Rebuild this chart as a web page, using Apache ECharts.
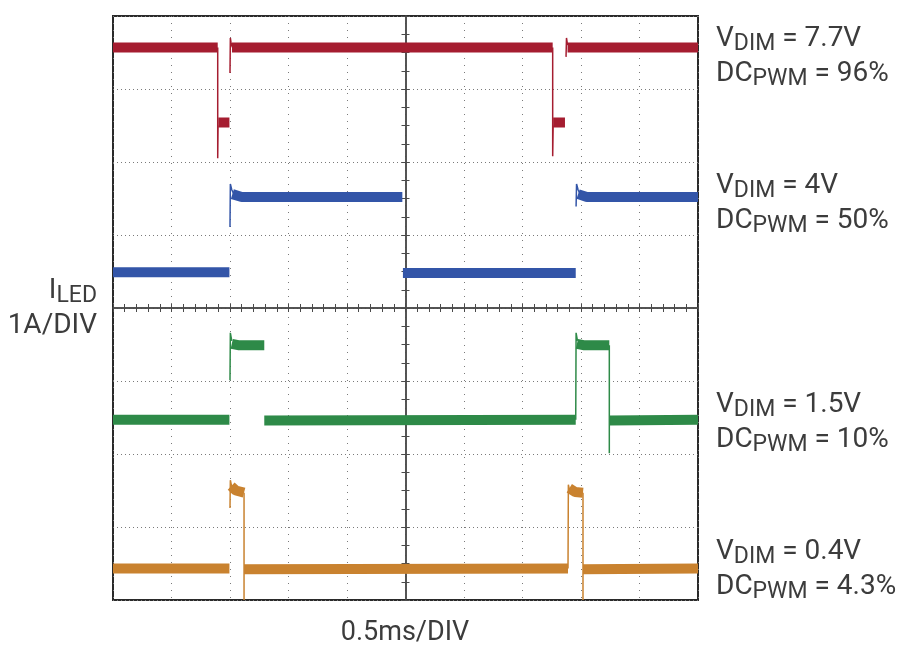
<!DOCTYPE html>
<html>
<head>
<meta charset="utf-8">
<script src="https://cdn.jsdelivr.net/npm/echarts@6/dist/echarts.min.js"></script>
<style>
html,body{margin:0;padding:0;background:#fff;}
#c{width:905px;height:646px;}
</style>
</head>
<body>
<div id="c"></div>
<script>
// Time in ms (0.5 ms/DIV, trigger at centre), current in A (1 A/DIV, centre = 0 A).
// '-' marks a gap in a trace.

// VDIM = 7.7V, DCPWM = 96%
const redLevel = [[-2.5,3.57],[-1.605,3.57],[-1.605,'-'],[-1.600,2.54],[-1.505,2.54],[-1.505,'-'],
  [-1.483,3.57],[1.258,3.57],[1.258,'-'],[1.262,2.54],[1.363,2.54],[1.363,'-'],[1.385,3.57],[2.5,3.57]];
const redEdge = [[-1.605,3.57],[-1.605,2.05],[-1.602,2.50],[-1.602,'-'],
  [-1.500,3.22],[-1.497,3.70],[-1.490,3.62],[-1.480,3.57],[-1.480,'-'],
  [1.258,3.57],[1.258,2.08],[1.262,2.50],[1.262,'-'],
  [1.372,3.44],[1.376,3.70],[1.385,3.60]];

// VDIM = 4V, DCPWM = 50%
const blueLevel = [[-2.5,0.49],[-1.505,0.49],[-1.505,'-'],[-1.480,1.56],[-1.40,1.52],[-0.027,1.52],[-0.027,'-'],
  [-0.022,0.48],[1.455,0.48],[1.455,'-'],[1.475,1.56],[1.55,1.52],[2.5,1.52]];
const blueEdge = [[-1.500,1.11],[-1.497,1.70],[-1.485,1.62],[-1.470,1.57],[-1.470,'-'],
  [1.458,1.39],[1.462,1.70],[1.475,1.62],[1.490,1.57]];

// VDIM = 1.5V, DCPWM = 10%
const greenLevel = [[-2.5,-1.53],[-1.505,-1.53],[-1.505,'-'],[-1.485,-0.49],[-1.43,-0.51],[-1.207,-0.51],[-1.207,'-'],
  [-1.207,-1.54],[1.455,-1.53],[1.455,'-'],
  [1.465,-0.49],[1.52,-0.51],[1.742,-0.51],[1.742,'-'],[1.742,-1.54],[2.5,-1.53]];
const greenEdge = [[-1.500,-0.99],[-1.497,-0.34],[-1.485,-0.45],[-1.485,'-'],
  [1.455,-1.53],[1.458,-0.34],[1.470,-0.45],[1.470,'-'],
  [1.742,-0.51],[1.742,-1.99]];

// VDIM = 0.4V, DCPWM = 4.3%
const orangeLevel = [[-2.5,-3.57],[-1.505,-3.57],[-1.505,'-'],[-1.490,-2.44],[-1.45,-2.50],[-1.38,-2.53],[-1.38,'-'],
  [-1.38,-3.58],[1.389,-3.57],[1.389,'-'],
  [1.400,-2.47],[1.45,-2.52],[1.517,-2.53],[1.517,'-'],[1.517,-3.58],[2.5,-3.57]];
const orangeEdge = [[-1.500,-2.74],[-1.497,-2.36],[-1.485,-2.45],[-1.485,'-'],
  [-1.38,-2.53],[-1.38,-4.0],[-1.38,'-'],
  [1.389,-3.57],[1.392,-2.42],[1.400,-2.48],[1.400,'-'],
  [1.517,-2.53],[1.517,-4.0]];

const traceColors = ['#a51d30', '#3355a8', '#2e8a48', '#c9822f'];
const traceNames = ['7.7V', '4V', '1.5V', '0.4V'];

const labelGroups = [
  ['{v|V}{s|DIM}{v| = 7.7V}', '{v|DC}{s|PWM}{v| = 96%}'],
  ['{v|V}{s|DIM}{v| = 4V}', '{v|DC}{s|PWM}{v| = 50%}'],
  ['{v|V}{s|DIM}{v| = 1.5V}', '{v|DC}{s|PWM}{v| = 10%}'],
  ['{v|V}{s|DIM}{v| = 0.4V}', '{v|DC}{s|PWM}{v| = 4.3%}']
];
const labelTops = [21, 168, 387, 534];

const X_MIN = -2.5, X_MAX = 2.5, X_STEP = 0.5;
const Y_MIN = -4, Y_MAX = 4, Y_STEP = 1;

const chart = echarts.init(document.getElementById('c'), null, {renderer: 'canvas'});

const FONT = 'Roboto, "Liberation Sans", sans-serif';
const TXT = '#3c3c3c';
const richStyle = {
  v: {fontSize: 28, fontFamily: FONT, fill: TXT, lineHeight: 35},
  s: {fontSize: 23, fontFamily: FONT, fill: TXT, lineHeight: 21, verticalAlign: 'bottom'}
};

const axisCommon = (pos, split, splitType, minorN) => ({
  type: 'value',
  position: pos,
  axisLine: {show: true, onZero: true, onZeroAxisIndex: 0, lineStyle: {color: '#4a4a4a', width: 1.5}},
  axisTick: {show: true, length: 4, lineStyle: {color: '#4a4a4a', width: 1}},
  minorTick: {show: true, splitNumber: minorN, length: 4, lineStyle: {color: '#4a4a4a', width: 1}},
  axisLabel: {show: false},
  splitLine: {show: split, lineStyle: {color: '#7a7a7a', width: 1, type: splitType}},
  minorSplitLine: {show: false}
});

const xAxes = [
  Object.assign(axisCommon('bottom', true, [1, 6], 5), {min: X_MIN, max: X_MAX, interval: X_STEP}),
  Object.assign(axisCommon('top', false, 'solid', 5), {min: X_MIN, max: X_MAX, interval: X_STEP})
];
const yAxes = [
  Object.assign(axisCommon('left', true, [1, 3], 4), {min: Y_MIN, max: Y_MAX, interval: Y_STEP}),
  Object.assign(axisCommon('right', false, 'solid', 4), {min: Y_MIN, max: Y_MAX, interval: Y_STEP})
];

const levels = [redLevel, blueLevel, greenLevel, orangeLevel];
const edges = [redEdge, blueEdge, greenEdge, orangeEdge];
const series = [];
levels.forEach((d, i) => {
  series.push({
    name: traceNames[i] + ' level', type: 'line', data: d, showSymbol: false, connectNulls: false,
    silent: true, z: 3,
    lineStyle: {color: traceColors[i], width: 10, cap: 'butt', join: 'bevel'}
  });
  series.push({
    name: traceNames[i] + ' edge', type: 'line', data: edges[i], showSymbol: false, connectNulls: false,
    silent: true, z: 4,
    lineStyle: {color: traceColors[i], width: 1.5, cap: 'butt'}
  });
});

const graphic = [];
labelGroups.forEach((g, i) => {
  graphic.push({
    type: 'text', x: 716, y: labelTops[i], silent: true,
    style: {text: g.join('\n'), rich: richStyle, fontFamily: FONT, fontSize: 28, fill: TXT, verticalAlign: 'top', align: 'left'}
  });
});
graphic.push({
  type: 'text', x: 97, y: 273, silent: true,
  style: {text: '{v|I}{s|LED}\n{v|1A/DIV}', rich: richStyle, fontFamily: FONT, fontSize: 28, fill: TXT, verticalAlign: 'top', align: 'right'}
});
graphic.push({
  type: 'text', x: 405, y: 633, silent: true,
  style: {text: '0.5ms/DIV', fontFamily: FONT, fontSize: 27, fill: TXT, verticalAlign: 'middle', align: 'center'}
});

chart.setOption({
  animation: false,
  backgroundColor: '#ffffff',
  grid: {left: 113, top: 16, width: 585, height: 584, show: true, borderColor: '#2a2a2a', borderWidth: 2, containLabel: false},
  xAxis: xAxes,
  yAxis: yAxes,
  series: series,
  graphic: graphic
});
</script>
</body>
</html>
